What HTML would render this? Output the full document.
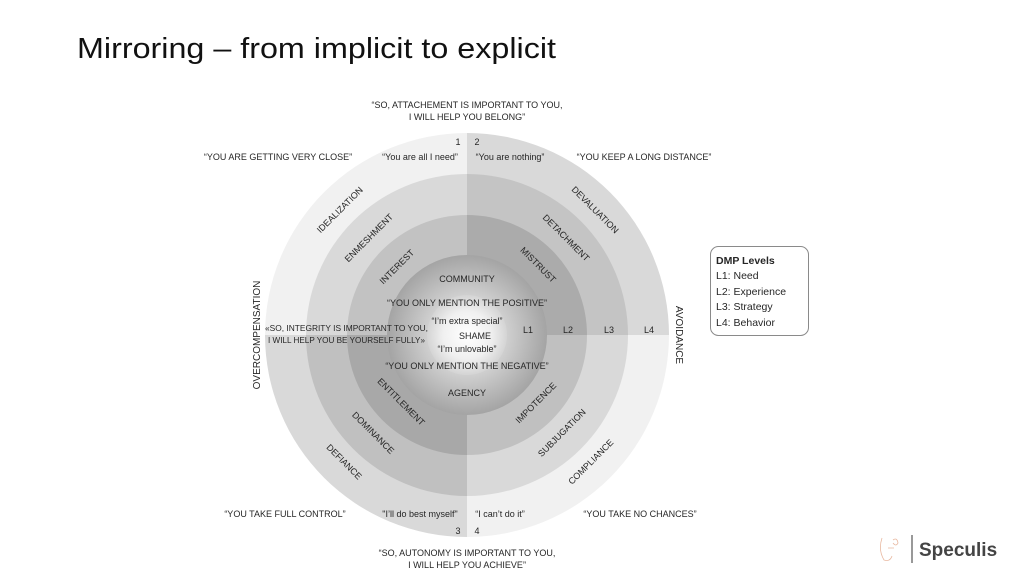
<!DOCTYPE html>
<html><head><meta charset="utf-8"><style>
html,body{margin:0;padding:0;background:#fff;width:1024px;height:575px;overflow:hidden}
svg{display:block}
text{font-family:"Liberation Sans",sans-serif;fill:#262626}
</style></head><body>
<svg width="1024" height="575" viewBox="0 0 1024 575" xmlns="http://www.w3.org/2000/svg">
<defs>
<radialGradient id="g1" cx="467" cy="335" r="80" gradientUnits="userSpaceOnUse">
<stop offset="0.5" stop-color="#cfcfcf"/><stop offset="1" stop-color="#a4a4a4"/></radialGradient>
<radialGradient id="g0" cx="467" cy="335" r="40" gradientUnits="userSpaceOnUse">
<stop offset="0" stop-color="#ffffff"/><stop offset="0.6" stop-color="#f0f0f0"/><stop offset="1" stop-color="#d4d4d4"/></radialGradient>
</defs>
<text x="77" y="58" font-size="29" textLength="479" lengthAdjust="spacingAndGlyphs" style="fill:#111">Mirroring – from implicit to explicit</text>

<path d="M467,335 L265,335 A202,202 0 0 1 467,133 Z" fill="#f1f1f1"/>
<path d="M467,335 L467,133 A202,202 0 0 1 669,335 Z" fill="#d9d9d9"/>
<path d="M467,335 L669,335 A202,202 0 0 1 467,537 Z" fill="#f1f1f1"/>
<path d="M467,335 L467,537 A202,202 0 0 1 265,335 Z" fill="#d9d9d9"/>
<path d="M467,335 L306,335 A161,161 0 0 1 467,174 Z" fill="#d9d9d9"/>
<path d="M467,335 L467,174 A161,161 0 0 1 628,335 Z" fill="#c4c4c4"/>
<path d="M467,335 L628,335 A161,161 0 0 1 467,496 Z" fill="#d9d9d9"/>
<path d="M467,335 L467,496 A161,161 0 0 1 306,335 Z" fill="#c0c0c0"/>
<path d="M467,335 L347,335 A120,120 0 0 1 467,215 Z" fill="#c2c2c2"/>
<path d="M467,335 L467,215 A120,120 0 0 1 587,335 Z" fill="#ababab"/>
<path d="M467,335 L587,335 A120,120 0 0 1 467,455 Z" fill="#c0c0c0"/>
<path d="M467,335 L467,455 A120,120 0 0 1 347,335 Z" fill="#a8a8a8"/>
<circle cx="467" cy="335" r="80" fill="url(#g1)"/>
<circle cx="467" cy="335" r="40" fill="url(#g0)"/>

<g font-size="9" text-anchor="middle">
<text x="467" y="108">“SO, ATTACHEMENT IS IMPORTANT TO YOU,</text>
<text x="467" y="120">I WILL HELP YOU BELONG”</text>
<text x="458" y="145">1</text><text x="477" y="145">2</text>
<text x="278" y="160">“YOU ARE GETTING VERY CLOSE”</text>
<text x="420" y="160">“You are all I need”</text>
<text x="510" y="160">“You are nothing”</text>
<text x="644" y="160">“YOU KEEP A LONG DISTANCE”</text>
<text x="285" y="517">“YOU TAKE FULL CONTROL”</text>
<text x="420" y="517">"I’ll do best myself"</text>
<text x="500" y="517">“I can’t do it”</text>
<text x="640" y="517">“YOU TAKE NO CHANCES”</text>
<text x="458" y="534">3</text><text x="477" y="534">4</text>
<text x="467" y="556">“SO, AUTONOMY IS IMPORTANT TO YOU,</text>
<text x="467" y="568">I WILL HELP YOU ACHIEVE”</text>

<text x="467" y="282">COMMUNITY</text>
<text x="467" y="306">“YOU ONLY MENTION THE POSITIVE”</text>
<text x="467" y="324">“I’m extra special”</text>
<text x="475" y="339">SHAME</text>
<text x="467" y="352">“I’m unlovable”</text>
<text x="467" y="369">“YOU ONLY MENTION THE NEGATIVE”</text>
<text x="467" y="396">AGENCY</text>
<text x="528" y="333">L1</text><text x="568" y="333">L2</text>
<text x="609" y="333">L3</text><text x="649" y="333">L4</text>

<text transform="translate(342,212) rotate(-45)">IDEALIZATION</text>
<text transform="translate(593,212) rotate(45)">DEVALUATION</text>
<text transform="translate(342,464) rotate(45)">DEFIANCE</text>
<text transform="translate(593,464) rotate(-45)">COMPLIANCE</text>
<text transform="translate(371,240) rotate(-45)">ENMESHMENT</text>
<text transform="translate(564,240) rotate(45)">DETACHMENT</text>
<text transform="translate(371,435) rotate(45)">DOMINANCE</text>
<text transform="translate(564,435) rotate(-45)">SUBJUGATION</text>
<text transform="translate(399,269) rotate(-45)">INTEREST</text>
<text transform="translate(536,267) rotate(45)">MISTRUST</text>
<text transform="translate(399,404) rotate(45)">ENTITLEMENT</text>
<text transform="translate(538,405) rotate(-45)">IMPOTENCE</text>
<text transform="translate(260,335) rotate(-90)" font-size="10">OVERCOMPENSATION</text>
<text transform="translate(676,335) rotate(90)" font-size="10">AVOIDANCE</text>
</g>
<g font-size="8.5">
<text x="265" y="331" textLength="163" lengthAdjust="spacingAndGlyphs">«SO, INTEGRITY IS IMPORTANT TO YOU,</text>
<text x="268" y="343" textLength="157" lengthAdjust="spacingAndGlyphs">I WILL HELP YOU BE YOURSELF FULLY»</text>
</g>

<rect x="710.5" y="246.5" width="98" height="89" rx="8" fill="#fff" stroke="#8a8a8a"/>
<g font-size="10.5">
<text x="716" y="264" font-weight="bold">DMP Levels</text>
<text x="716" y="279">L1: Need</text>
<text x="716" y="295">L2: Experience</text>
<text x="716" y="310">L3: Strategy</text>
<text x="716" y="326">L4: Behavior</text>
</g>

<path d="M882,538 q-4,12 2,22 q6,2 8,-4 M888,548 l6,0 M893,540 q4,-3 5,3 q-2,4 -5,0" fill="none" stroke="#e8b8a0" stroke-width="0.8"/>
<line x1="912" y1="535" x2="912" y2="563" stroke="#555" stroke-width="1.2"/>
<text x="919" y="556" font-size="19" font-weight="bold" style="fill:#444">Speculis</text>
</svg>
</body></html>
